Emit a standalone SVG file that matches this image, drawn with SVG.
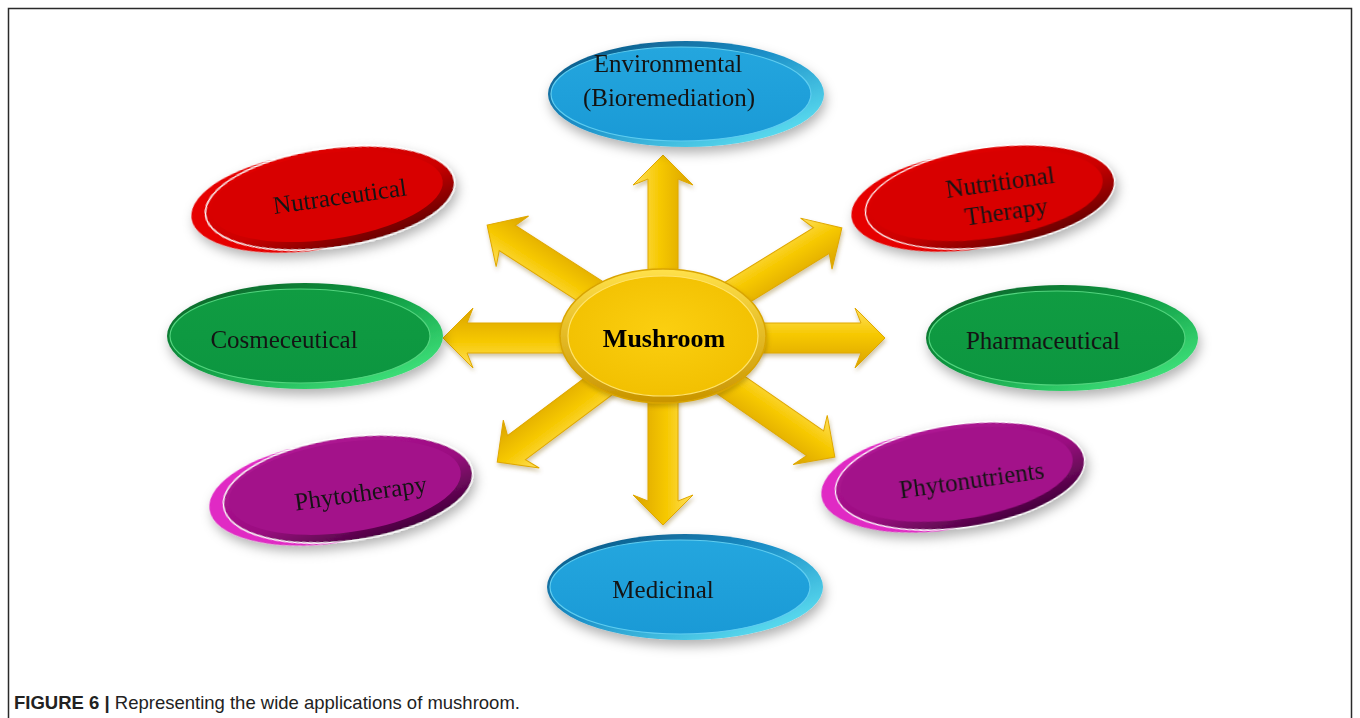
<svg xmlns="http://www.w3.org/2000/svg" width="1360" height="718" viewBox="0 0 1360 718">
<defs>
  <filter id="sh" x="-30%" y="-40%" width="160%" height="190%">
    <feDropShadow dx="2" dy="6" stdDeviation="6" flood-color="#000" flood-opacity="0.3"/>
  </filter>
  <filter id="ash" x="-20%" y="-40%" width="140%" height="180%">
    <feDropShadow dx="1" dy="3" stdDeviation="2" flood-color="#7a5a00" flood-opacity="0.35"/>
  </filter>
  <linearGradient id="blueRim" x1="0" y1="0" x2="1" y2="1">
    <stop offset="0" stop-color="#0a4d77"/>
    <stop offset="0.45" stop-color="#1b8fc8"/>
    <stop offset="1" stop-color="#6ef3fb"/>
  </linearGradient>
  <linearGradient id="blueIn" x1="0" y1="0" x2="0" y2="1">
    <stop offset="0" stop-color="#24a6de"/>
    <stop offset="1" stop-color="#1a9ad6"/>
  </linearGradient>
  <linearGradient id="greenRim" x1="0" y1="0" x2="1" y2="1">
    <stop offset="0" stop-color="#075a24"/>
    <stop offset="0.45" stop-color="#0f9a42"/>
    <stop offset="1" stop-color="#4cf58a"/>
  </linearGradient>
  <linearGradient id="greenIn" x1="0" y1="0" x2="0" y2="1">
    <stop offset="0" stop-color="#109c42"/>
    <stop offset="1" stop-color="#0c9640"/>
  </linearGradient>
  <linearGradient id="redRim" x1="0" y1="0" x2="0.6" y2="1">
    <stop offset="0" stop-color="#e80000"/>
    <stop offset="0.65" stop-color="#cc0000"/>
    <stop offset="1" stop-color="#700000"/>
  </linearGradient>
  <linearGradient id="magRim" x1="0" y1="0" x2="0.6" y2="1">
    <stop offset="0" stop-color="#b5179a"/>
    <stop offset="0.65" stop-color="#9a0e80"/>
    <stop offset="1" stop-color="#4a0340"/>
  </linearGradient>
  <linearGradient id="goldArr" gradientUnits="userSpaceOnUse" x1="0" y1="-30" x2="0" y2="30">
    <stop offset="0" stop-color="#ffe060"/>
    <stop offset="0.45" stop-color="#f6c800"/>
    <stop offset="1" stop-color="#d9a200"/>
  </linearGradient>
  <linearGradient id="goldRim" x1="0" y1="0" x2="0" y2="1">
    <stop offset="0" stop-color="#ffe14a"/>
    <stop offset="1" stop-color="#c99400"/>
  </linearGradient>
  <radialGradient id="goldIn" cx="0.5" cy="0.45" r="0.6">
    <stop offset="0" stop-color="#fbcf10"/>
    <stop offset="1" stop-color="#f1bf00"/>
  </radialGradient>
</defs>
<style>
  .lbl { font-family: "Liberation Serif", "Times New Roman", serif; font-size: 25px; fill: #141414; text-anchor: middle; }
  .core { font-family: "Liberation Serif", "Times New Roman", serif; font-size: 26px; font-weight: bold; fill: #000; text-anchor: middle; }
  .arrow { fill: url(#goldArr); stroke: #e0a800; stroke-width: 1; }
  .cap { font-family: "Liberation Sans", Arial, sans-serif; font-size: 18.5px; fill: #222; }
  .whiteEdge { fill: none; stroke: #ffffff; stroke-width: 2.5; }
</style>
<rect width="1360" height="718" fill="#ffffff"/>
<path d="M8.5,718 V8.5 H1351.5 V718" fill="none" stroke="#2a2a2a" stroke-width="1.5"/>

<g id="connectors" filter="url(#ash)">
  <path class="arrow" transform="translate(663,338) rotate(-90)" d="M0,-15 H159 L153,-30 L183,0 L153,30 L159,15 H0 Z"/>
  <path class="arrow" transform="translate(663,338) rotate(180)" d="M0,-15 H196 L190,-30 L220,0 L190,30 L196,15 H0 Z"/>
  <path class="arrow" transform="translate(663,338)" d="M0,-15 H198 L192,-30 L222,0 L192,30 L198,15 H0 Z"/>
  <path class="arrow" transform="translate(663,338) rotate(90)" d="M0,-15 H163 L157,-30 L187,0 L157,30 L163,15 H0 Z"/>
  <path class="arrow" transform="translate(663,338) rotate(-147.3)" d="M0,-15 H185 L179,-30 L209,0 L179,30 L185,15 H0 Z"/>
  <path class="arrow" transform="translate(663,338) rotate(-31.6)" d="M0,-15 H186 L180,-30 L210,0 L180,30 L186,15 H0 Z"/>
  <path class="arrow" transform="translate(663,338) rotate(143.2)" d="M0,-15 H183 L177,-30 L207,0 L177,30 L183,15 H0 Z"/>
  <path class="arrow" transform="translate(663,338) rotate(34.7)" d="M0,-15 H185 L179,-30 L209,0 L179,30 L185,15 H0 Z"/>
</g>

<g id="mushroom">
  <ellipse cx="663" cy="336" rx="103" ry="67" fill="url(#goldRim)" stroke="#d9a400" stroke-width="1.5" filter="url(#ash)"/>
  <ellipse cx="663" cy="336" rx="95" ry="60" fill="url(#goldIn)" stroke="#ffe36a" stroke-width="1.2"/>
  <text class="core" x="664" y="347">Mushroom</text>
</g>

<g id="environmental">
  <ellipse cx="686" cy="94" rx="138" ry="53" fill="url(#blueRim)" filter="url(#sh)"/>
  <ellipse cx="681" cy="94" rx="130" ry="47" fill="url(#blueIn)" stroke="#5fcdf0" stroke-width="1.2"/>
  <text class="lbl" x="668" y="72">Environmental</text>
  <text class="lbl" x="669" y="106">(Bioremediation)</text>
</g>

<g id="medicinal">
  <ellipse cx="685" cy="587" rx="138" ry="53" fill="url(#blueRim)" filter="url(#sh)"/>
  <ellipse cx="680" cy="587" rx="130" ry="47" fill="url(#blueIn)" stroke="#5fcdf0" stroke-width="1.2"/>
  <text class="lbl" x="663" y="598">Medicinal</text>
</g>

<g id="cosmeceutical">
  <ellipse cx="305" cy="336" rx="138" ry="53" fill="url(#greenRim)" filter="url(#sh)"/>
  <ellipse cx="300" cy="336" rx="130" ry="47" fill="url(#greenIn)" stroke="#52d47e" stroke-width="1.2"/>
  <text class="lbl" x="284" y="348">Cosmeceutical</text>
</g>

<g id="pharmaceutical">
  <ellipse cx="1062" cy="338" rx="136" ry="53" fill="url(#greenRim)" filter="url(#sh)"/>
  <ellipse cx="1057" cy="338" rx="128" ry="47" fill="url(#greenIn)" stroke="#52d47e" stroke-width="1.2"/>
  <text class="lbl" x="1043" y="349">Pharmaceutical</text>
</g>

<g id="nutraceutical" transform="translate(330,198) rotate(-8)">
  <g filter="url(#sh)">
    <ellipse cx="-16" cy="1" rx="124" ry="49" fill="#e60000"/>
    <ellipse cx="0" cy="0" rx="125" ry="49" class="whiteEdge"/>
    <ellipse cx="0" cy="0" rx="125" ry="49" fill="url(#redRim)"/>
  </g>
  <ellipse cx="-3" cy="-2" rx="117" ry="43" fill="#d80000"/>
  <text class="lbl" x="10" y="8">Nutraceutical</text>
</g>

<g id="nutritional" transform="translate(990,197) rotate(-8)">
  <g filter="url(#sh)">
    <ellipse cx="-16" cy="1" rx="124" ry="49" fill="#e60000"/>
    <ellipse cx="0" cy="0" rx="125" ry="49" class="whiteEdge"/>
    <ellipse cx="0" cy="0" rx="125" ry="49" fill="url(#redRim)"/>
  </g>
  <ellipse cx="-3" cy="-2" rx="117" ry="43" fill="#d80000"/>
  <text class="lbl" x="12" y="-5">Nutritional</text>
  <text class="lbl" x="14" y="25">Therapy</text>
</g>

<g id="phytotherapy" transform="translate(348,489) rotate(-8)">
  <g filter="url(#sh)">
    <ellipse cx="-16" cy="1" rx="124" ry="51" fill="#e02cc4"/>
    <ellipse cx="0" cy="0" rx="125" ry="51" class="whiteEdge"/>
    <ellipse cx="0" cy="0" rx="125" ry="51" fill="url(#magRim)"/>
  </g>
  <ellipse cx="-3" cy="-2" rx="117" ry="45" fill="#a3128a"/>
  <text class="lbl" x="12" y="14">Phytotherapy</text>
</g>

<g id="phytonutrients" transform="translate(960,476) rotate(-8)">
  <g filter="url(#sh)">
    <ellipse cx="-16" cy="1" rx="124" ry="51" fill="#e02cc4"/>
    <ellipse cx="0" cy="0" rx="125" ry="51" class="whiteEdge"/>
    <ellipse cx="0" cy="0" rx="125" ry="51" fill="url(#magRim)"/>
  </g>
  <ellipse cx="-3" cy="-2" rx="117" ry="45" fill="#a3128a"/>
  <text class="lbl" x="11" y="14">Phytonutrients</text>
</g>

<text class="cap" x="14" y="709"><tspan font-weight="bold">FIGURE 6 |</tspan> Representing the wide applications of mushroom.</text>
</svg>
